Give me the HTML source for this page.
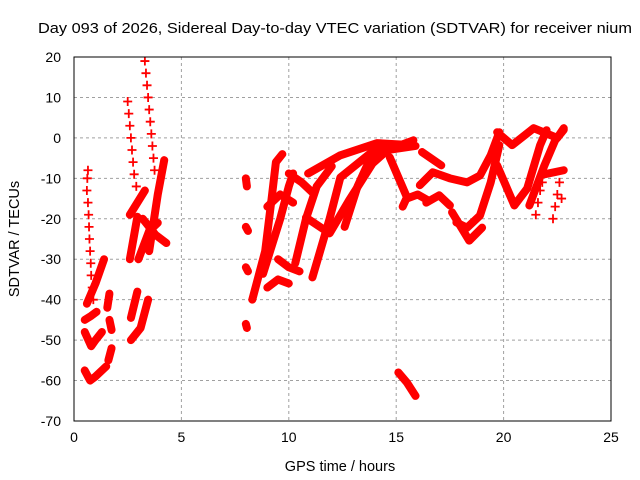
<!DOCTYPE html>
<html><head><meta charset="utf-8"><style>
html,body{margin:0;padding:0;background:#fff;}
svg{display:block;font-family:"Liberation Sans",sans-serif;}
</style></head><body>
<svg id="chart" width="640" height="480" viewBox="0 0 640 480" xmlns="http://www.w3.org/2000/svg">
<rect x="0" y="0" width="640" height="480" fill="#fff"/>
<text x="38" y="33" font-size="15" textLength="594" lengthAdjust="spacingAndGlyphs" fill="#000">Day 093 of 2026, Sidereal Day-to-day VTEC variation (SDTVAR) for receiver nium</text>
<g id="grid"></g>
<g id="ticks"></g>
<g id="marks"></g>
<rect x="74" y="57" width="537" height="364" fill="none" stroke="#000" stroke-width="1"/>
<text x="340" y="471" font-size="14.5" text-anchor="middle">GPS time / hours</text>
<text transform="translate(19,239) rotate(-90)" font-size="14.5" text-anchor="middle">SDTVAR / TECUs</text>
</svg>
<script>
const xTicks = [0, 5, 10, 15, 20, 25];
const yTicks = [20, 10, 0, -10, -20, -30, -40, -50, -60, -70];
// thick tracks: [hour, value] pairs
const trackA1 = [[1.4,-30],[1.0,-36],[0.6,-41]];
const trackA2 = [[1.05,-43],[0.8,-44],[0.5,-45]];
const trackA3 = [[0.5,-48],[0.8,-51.5],[1.0,-50],[1.3,-48]];
const trackA4 = [[0.5,-57.5],[0.75,-60],[1.0,-59],[1.5,-56.5]];
const trackA5 = [[1.65,-38.5],[1.55,-42]];
const trackA6 = [[1.65,-45],[1.75,-47.5]];
const trackA7 = [[1.75,-52],[1.6,-55]];
const trackB1 = [[2.6,-19],[3.3,-13]];
const trackB2 = [[2.6,-30],[2.95,-19.5]];
const trackB3 = [[2.95,-38],[2.65,-44.5]];
const trackB4 = [[3.45,-40],[3.1,-47],[2.65,-50]];
const trackB5 = [[3.0,-30],[3.5,-23],[3.9,-21]];
const trackB6 = [[4.2,-5.5],[3.9,-14],[3.5,-28]];
const trackB7 = [[3.2,-20],[3.8,-24],[4.3,-26]];
const trackC1 = [[8.3,-40],[8.9,-28],[9.2,-15],[9.4,-6],[9.7,-4]];
const trackC2 = [[8.8,-33.6],[9.6,-20],[10.0,-12],[10.2,-8.8]];
const trackC3 = [[10.0,-8.8],[10.6,-11],[11.1,-13.5]];
const trackC4 = [[11.1,-34.5],[11.9,-20],[12.4,-9.8],[13.8,-3.8],[14.6,-2.3]];
const trackC5 = [[10.9,-8.8],[12.4,-4.3],[14.1,-1.3],[15.4,-1.7]];
const trackC6 = [[10.8,-19.7],[11.9,-23.6],[12.8,-15.5],[13.9,-6.3],[14.6,-3],[15.9,-2]];
const trackC7 = [[9.5,-30],[10.0,-32],[10.5,-33]];
const trackC8 = [[9.0,-17],[9.6,-14],[10.2,-16]];
const trackC9 = [[14.7,-4.8],[15.5,-14.7],[15.3,-17]];
const trackC10 = [[10.3,-31],[10.8,-20],[11.3,-12],[12.0,-7]];
const trackC11 = [[12.6,-22],[13.2,-12],[13.8,-5],[14.3,-2.5]];
const trackC12 = [[9.0,-37],[9.5,-35],[10.0,-36]];
const trackD1 = [[15.2,-1.8],[15.8,-0.6]];
const trackD2 = [[16.2,-3.5],[17.1,-6.8]];
const trackD3 = [[16.1,-11.7],[16.7,-8.5],[17.5,-10],[18.3,-11],[18.9,-9.3],[19.4,-4.3],[19.8,1.4]];
const trackD4 = [[16.4,-16],[17.0,-14.2],[17.5,-16.7]];
const trackD5 = [[17.6,-18.4],[18.4,-25.4],[19.0,-22.2]];
const trackD6 = [[17.8,-20.9],[18.3,-22.2],[18.9,-19.2],[19.4,-11],[19.8,-1.8]];
const trackD7 = [[19.7,-6.8],[20.5,-16.7],[21.1,-12.5],[21.7,-1.8],[22.0,1.9]];
const trackD8 = [[19.7,1.4],[20.4,-1.8],[21.4,2.4],[22.5,0],[22.8,2.4]];
const trackD9 = [[21.2,-16.7],[21.9,-6.8],[22.4,-0.6],[22.8,2]];
const trackD10 = [[21.9,-9],[22.8,-8]];
const trackD11 = [[15.5,-15],[16.0,-14],[16.5,-15.5]];
const trackE1 = [[15.1,-58],[15.5,-60.5],[15.9,-63.8]];
const trackE2 = [[8.0,-46],[8.05,-47]];
const trackE3 = [[8.0,-32],[8.1,-33]];
const trackE4 = [[8.0,-22],[8.1,-23]];
const trackE5 = [[8.0,-10],[8.05,-12]];
// sparse "+" tracks
const sparseA = [[0.65,-8],[0.62,-10],[0.6,-13],[0.65,-16],[0.68,-19],[0.7,-22],[0.72,-25],[0.75,-28],[0.78,-31],[0.8,-34],[0.85,-37],[0.9,-40]];
const sparseB = [[2.5,9],[2.55,6],[2.6,3],[2.65,0],[2.7,-3],[2.75,-6],[2.8,-9],[2.9,-12]];
const sparseC = [[3.3,19],[3.35,16],[3.4,13],[3.45,10],[3.5,7],[3.55,4],[3.6,1],[3.65,-2],[3.7,-5],[3.75,-8]];
const sparseD = [[21.5,-19],[21.6,-16],[21.7,-13],[21.8,-11],[22.3,-20],[22.4,-17],[22.5,-14],[22.6,-11],[22.7,-15]];

const thickTracks = [trackA1,trackA2,trackA3,trackA4,trackA5,trackA6,trackA7,trackB1,trackB2,trackB3,trackB4,trackB5,trackB6,trackB7,trackC1,trackC2,trackC3,trackC4,trackC5,trackC6,trackC7,trackC8,trackC9,trackC10,trackC11,trackC12,trackD1,trackD2,trackD3,trackD4,trackD5,trackD6,trackD7,trackD8,trackD9,trackD10,trackD11,trackE1,trackE2,trackE3,trackE4,trackE5];
const sparseTracks = [sparseA, sparseB, sparseC, sparseD];

const X0=74, X1=611, Y0=57, Y1=421;
function xs(h){return X0+(h-0)/25*(X1-X0);}
function ys(v){return Y0+(20-v)/90*(Y1-Y0);}
const NS='http://www.w3.org/2000/svg';
const grid=document.getElementById('grid'), ticks=document.getElementById('ticks'), marks=document.getElementById('marks');
function mk(tag,attrs,parent){const e=document.createElementNS(NS,tag);for(const k in attrs)e.setAttribute(k,attrs[k]);parent.appendChild(e);return e;}

xTicks.forEach(t=>{
  const x=xs(t);
  if(t>0&&t<25){
    const g=mk('line',{x1:x,x2:x,y1:Y0,y2:Y1,stroke:'#a0a0a0','stroke-dasharray':'3,3','stroke-width':1},grid);
    
    
  }
  const l=mk('text',{x:x,y:442,'font-size':14,'text-anchor':'middle'},ticks);
  l.textContent=t;
  
  
});
yTicks.forEach(t=>{
  const y=ys(t);
  if(t<20&&t>-70){
    const g=mk('line',{x1:X0,x2:X1,y1:y,y2:y,stroke:'#a0a0a0','stroke-dasharray':'3,3','stroke-width':1},grid);
    
    
  }
  const l=mk('text',{x:61,y:y+5,'font-size':14,'text-anchor':'end'},ticks);
  l.textContent=t;
  
  
});
thickTracks.forEach(tr=>{
  const p=mk('polyline',{points:tr.map(d=>xs(d[0])+','+ys(d[1])).join(' '),fill:'none',stroke:'#ff0000','stroke-width':8,'stroke-linejoin':'round','stroke-linecap':'round'},marks);
  
  
});
sparseTracks.forEach(tr=>{
  tr.forEach(d=>{
    const x=xs(d[0]), y=ys(d[1]);
    const p=mk('path',{d:`M${x-4.5},${y}H${x+4.5}M${x},${y-4.5}V${y+4.5}`,stroke:'#ff0000','stroke-width':1.8,fill:'none'},marks);
    
    
  });
});
</script>
</body></html>
